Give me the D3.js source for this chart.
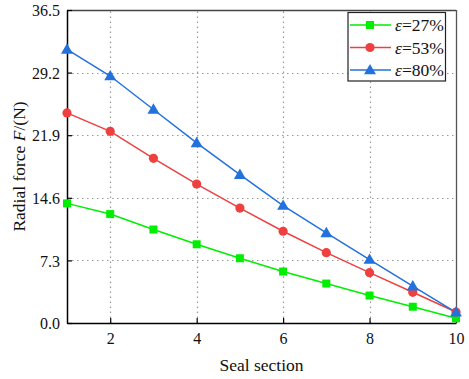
<!DOCTYPE html>
<html>
<head>
<meta charset="utf-8">
<script src="https://cdn.jsdelivr.net/npm/d3@7/dist/d3.min.js"></script>
<style>
  html, body { margin: 0; padding: 0; background: #fff; }
  svg { display: block; }
  svg text { font-family: "Times New Roman", "Liberation Serif", serif; }
</style>
</head>
<body>
<svg id="chart" width="469" height="379"></svg>
<script>
// Seal sections along the x axis
const sections = [1, 2, 3, 4, 5, 6, 7, 8, 9, 10];

// Radial force per section for each compression ratio
const force27 = [13.95, 12.7, 10.9, 9.18, 7.55, 6.0, 4.6, 3.2, 1.9, 0.55];
const force53 = [24.5, 22.35, 19.2, 16.2, 13.4, 10.7, 8.2, 5.87, 3.58, 1.28];
const force80 = [31.9, 28.8, 24.9, 21.0, 17.3, 13.7, 10.5, 7.4, 4.3, 1.25];

const seriesLabels = ["27%", "53%", "80%"];
const xTicks = [2, 4, 6, 8, 10];
const yTicks = [0.0, 7.3, 14.6, 21.9, 29.2, 36.5];

const SERIF = "'Times New Roman', 'Liberation Serif', serif";

const series = [
  { label: seriesLabels[0], values: force27, color: "#00ee00", marker: "square" },
  { label: seriesLabels[1], values: force53, color: "#ef4040", marker: "circle" },
  { label: seriesLabels[2], values: force80, color: "#2271dd", marker: "triangle" }
];

const svg = d3.select("#chart");
const margin = { left: 67, right: 13, top: 10, bottom: 56 };
const W = 469, H = 379;
const x0 = margin.left, x1 = W - margin.right, y0 = H - margin.bottom, y1 = margin.top;

const x = d3.scaleLinear().domain([1, 10]).range([x0, x1]);
const y = d3.scaleLinear().domain([0, 36.5]).range([y0, y1]);

// Dotted grid
const grid = svg.append("g").attr("stroke", "#999").attr("stroke-width", 1.2)
  .attr("stroke-dasharray", "1.5,3.5");
grid.selectAll(".gx").data(xTicks.filter(d => d < 10)).join("line")
  .attr("x1", d => Math.round(x(d)) + 0.5).attr("x2", d => Math.round(x(d)) + 0.5)
  .attr("y1", y0).attr("y2", y1);
grid.selectAll(".gy").data(yTicks.filter(d => d > 0 && d < 36.5)).join("line")
  .attr("y1", d => Math.round(y(d)) + 0.5).attr("y2", d => Math.round(y(d)) + 0.5)
  .attr("x1", x0).attr("x2", x1);

// Frame: top and right in grey
svg.append("line").attr("x1", x0).attr("x2", x1).attr("y1", y1 + 0.5).attr("y2", y1 + 0.5)
  .attr("stroke", "#444").attr("stroke-width", 1.3);
svg.append("line").attr("x1", x1 + 0.5).attr("x2", x1 + 0.5).attr("y1", y1).attr("y2", y0)
  .attr("stroke", "#555").attr("stroke-width", 1.3);

// Axes with inward ticks
const xAxis = d3.axisBottom(x).tickValues(xTicks).tickFormat(d3.format("d"))
  .tickSizeInner(-5).tickSizeOuter(0).tickPadding(10);
const yAxis = d3.axisLeft(y).tickValues(yTicks).tickFormat(d3.format(".1f"))
  .tickSizeInner(-5).tickSizeOuter(0).tickPadding(7);

const gx = svg.append("g").attr("transform", `translate(0,${y0})`).call(xAxis);
const gy = svg.append("g").attr("transform", `translate(${x0},0)`).call(yAxis);
[gx, gy].forEach(g => {
  g.attr("font-family", SERIF).attr("font-size", 16);
  g.select(".domain").attr("stroke", "#000").attr("stroke-width", 1.5);
  g.selectAll(".tick line").attr("stroke", "#000").attr("stroke-width", 1.2);
  g.selectAll(".tick text").attr("fill", "#111");
});
gy.selectAll(".tick text").attr("dy", "0.35em");

// Marker drawing
function drawMarker(sel, type, color) {
  if (type === "square") {
    sel.append("rect").attr("x", -4).attr("y", -4).attr("width", 8).attr("height", 8).attr("fill", color);
  } else if (type === "circle") {
    sel.append("circle").attr("r", 4.6).attr("fill", color);
  } else {
    sel.append("path").attr("d", d3.symbol(d3.symbolTriangle, 62)()).attr("fill", color)
      .attr("transform", "translate(0,0.8)");
  }
}

const line = d3.line().x((d, i) => x(sections[i])).y(d => y(d));

series.forEach(s => {
  svg.append("path").datum(s.values).attr("d", line)
    .attr("fill", "none").attr("stroke", s.color).attr("stroke-width", 1.5);
});
series.forEach(s => {
  svg.append("g").selectAll("g").data(s.values).join("g")
    .attr("transform", (d, i) => `translate(${x(sections[i])},${y(d)})`)
    .each(function () { drawMarker(d3.select(this), s.marker, s.color); });
});

// Legend
const lg = svg.append("g");
lg.append("rect").attr("x", 348).attr("y", 12.5).attr("width", 97.5).attr("height", 68.5)
  .attr("fill", "#fff").attr("stroke", "#222").attr("stroke-width", 1.2);
series.forEach((s, i) => {
  const cy = 25 + i * 22.5;
  lg.append("line").attr("x1", 350).attr("x2", 391).attr("y1", cy).attr("y2", cy)
    .attr("stroke", s.color).attr("stroke-width", 1.5);
  drawMarker(lg.append("g").attr("transform", `translate(370,${cy})`), s.marker, s.color);
  const t = lg.append("text").attr("x", 395).attr("y", cy + 6)
    .attr("font-family", SERIF).attr("font-size", 17.5).attr("fill", "#111");
  t.append("tspan").attr("font-style", "italic").text("ε");
  t.append("tspan").text("=" + s.label);
});

// Axis titles
svg.append("text").attr("x", (x0 + x1) / 2).attr("y", 371).attr("text-anchor", "middle")
  .attr("font-family", SERIF).attr("font-size", 17.5).attr("fill", "#111").text("Seal section");

const yt = svg.append("text").attr("transform", `translate(25,${(y0 + y1) / 2}) rotate(-90)`)
  .attr("text-anchor", "middle").attr("font-family", SERIF).attr("font-size", 17.5).attr("fill", "#111");
yt.append("tspan").text("Radial force ");
yt.append("tspan").attr("font-style", "italic").text("F");
yt.append("tspan").text("/(N)");
</script>
</body>
</html>
